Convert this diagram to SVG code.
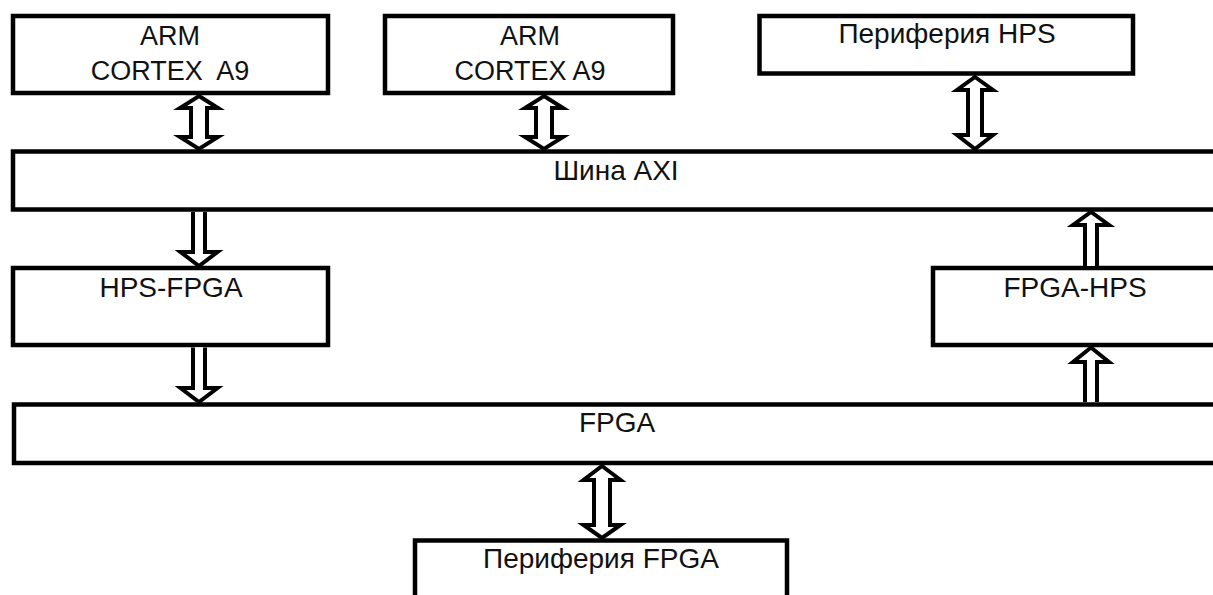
<svg xmlns="http://www.w3.org/2000/svg" width="1213" height="595" viewBox="0 0 1213 595">
<style>
.box{fill:#fff;stroke:#000;stroke-width:4.5}
.arr{fill:#fff;stroke:#000;stroke-width:4;stroke-linejoin:miter;stroke-miterlimit:10}
text{font-family:"Liberation Sans",Arial,sans-serif;font-size:28px;fill:#111;text-anchor:middle;white-space:pre}
.s{font-size:27px}
</style>
<rect width="1213" height="595" fill="#fff"/>
<g id="arm1"><rect class="box" x="13" y="16" width="315" height="77"/><text class="s" x="170" y="45">ARM</text><text class="s" x="170" y="80">CORTEX  A9</text></g>
<g id="arm2"><rect class="box" x="385" y="16" width="288" height="77"/><text class="s" x="530" y="45">ARM</text><text class="s" x="530" y="80">CORTEX A9</text></g>
<g id="hps_periph"><rect class="box" x="759.5" y="16" width="373.5" height="57.5"/><text x="947" y="43">Периферия HPS</text></g>
<g id="axi"><rect class="box" x="13" y="151.5" width="1215" height="58"/><text x="616" y="180">Шина AXI</text></g>
<g id="hps_fpga"><rect class="box" x="13" y="268" width="315" height="77"/><text x="171" y="297">HPS-FPGA</text></g>
<g id="fpga_hps"><rect class="box" x="933" y="268" width="295" height="77"/><text x="1075" y="297">FPGA-HPS</text></g>
<g id="fpga"><rect class="box" x="14" y="404.5" width="1214" height="58.5"/><text x="617" y="432">FPGA</text></g>
<g id="fpga_periph"><rect class="box" x="415" y="540.5" width="372" height="70"/><text x="601" y="568">Периферия FPGA</text></g>
<g id="connectors">
<path class="arr" d="M199,96 L218,108 L207,108 L207,137 L218,137 L199,149 L180,137 L191,137 L191,108 L180,108 Z"/>
<path class="arr" d="M544,96 L563,108 L552,108 L552,137 L563,137 L544,149 L525,137 L536,137 L536,108 L525,108 Z"/>
<path class="arr" d="M975,77 L993,90 L982,90 L982,135 L993,135 L975,149 L957,135 L968,135 L968,90 L957,90 Z"/>
<path class="arr" d="M193,212 L193,252 L180.5,252 L199,266 L217.5,252 L205,252 L205,212"/>
<path class="arr" d="M193,347.5 L193,388 L180.5,388 L199,402 L217.5,388 L205,388 L205,347.5"/>
<path class="arr" d="M1085,266 L1085,225 L1073,225 L1091,212 L1109,225 L1097,225 L1097,266"/>
<path class="arr" d="M1085,402 L1085,362 L1073,362 L1091,347.5 L1109,362 L1097,362 L1097,402"/>
<path class="arr" d="M602,466 L620.5,480 L610,480 L610,525 L620.5,525 L602,538 L583.5,525 L594,525 L594,480 L583.5,480 Z"/>
</g>
</svg>
